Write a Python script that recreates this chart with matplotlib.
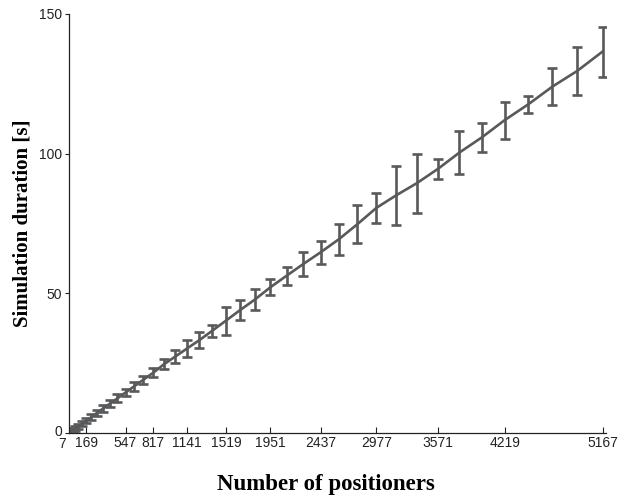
import numpy as np
import matplotlib
matplotlib.use('Agg')
import matplotlib.pyplot as plt
from matplotlib.transforms import ScaledTranslation

# number of positioners (hexagonal layouts)
positioners = [7, 19, 37, 61, 91, 127, 169, 217, 271, 331, 397, 469, 547, 631,
               721, 817, 919, 1027, 1141, 1261, 1387, 1519, 1657, 1801, 1951,
               2107, 2269, 2437, 2611, 2791, 2977, 3169, 3367, 3571, 3781, 3997,
               4219, 4447, 4681, 4921, 5167]

# mean simulation duration [s]
duration = [0.2, 0.5, 1.0, 1.6, 2.4, 3.4, 4.5, 5.7, 7.2, 8.8, 10.5, 12.4, 14.5,
            16.7, 19.1, 21.6, 24.6, 27.3, 30.2, 33.2, 36.6, 40.2, 44.0, 47.8,
            52.2, 56.3, 60.5, 64.7, 69.3, 74.7, 80.6, 85.1, 89.4, 94.5, 100.4,
            105.8, 112.0, 117.65, 124.0, 129.6, 136.55]

# error bar half widths [s]
errors = [0.5, 0.6, 0.7, 0.8, 0.9, 1.0, 1.0, 1.1, 1.2, 1.2, 1.3, 1.4, 1.2, 1.5,
          1.4, 1.6, 1.8, 2.35, 3.1, 2.9, 2.1, 5.05, 3.45, 3.8, 2.95, 3.25, 4.45,
          4.2, 5.55, 6.85, 5.45, 10.6, 10.5, 3.6, 7.8, 5.1, 6.6, 3.15, 6.6,
          8.7, 8.95]

xtick_values = [7, 169, 547, 817, 1141, 1519, 1951, 2437, 2977, 3571, 4219, 5167]
ytick_values = [0, 50, 100, 150]

col = '#58595b'

fig = plt.figure(figsize=(6.19, 4.99), dpi=100)
ax = fig.add_axes([0.1115, 0.1323, 0.8675, 0.8397])

ax.errorbar(positioners, duration, yerr=errors, color=col, linewidth=1.9,
            elinewidth=1.9, capsize=3.6, capthick=1.9)

ax.set_xlim(0, 5200)
ax.set_ylim(0, 150)
ax.set_xticks(xtick_values)
ax.set_xticklabels([str(v) for v in xtick_values])
ax.set_yticks(ytick_values)

for s in ['top', 'right']:
    ax.spines[s].set_visible(False)
for s in ['left', 'bottom']:
    ax.spines[s].set_linewidth(0.9)
    ax.spines[s].set_color('#222222')

ax.tick_params(axis='x', direction='in', length=4, width=0.8, pad=2,
               labelsize=10, colors='#222222')
ax.tick_params(axis='y', direction='out', length=3, width=0.8, pad=2,
               labelsize=10, colors='#222222')
for lab in ax.get_xticklabels() + ax.get_yticklabels():
    lab.set_family('Liberation Sans')

# nudge the "7" label left so it does not run into "169"
first = ax.get_xticklabels()[0]
first.set_transform(first.get_transform() +
                    ScaledTranslation(-8 / 100, -1 / 100, fig.dpi_scale_trans))
# and lift the "0" a touch so it sits just above the "7"
zero = ax.get_yticklabels()[0]
zero.set_transform(zero.get_transform() +
                   ScaledTranslation(0, 2 / 100, fig.dpi_scale_trans))

ax.set_xlabel('Number of positioners', family='Liberation Serif',
              fontweight='bold', fontsize=16.5, labelpad=17)
ax.xaxis.label.set_x(0.479)
ax.set_ylabel('Simulation duration [s]', family='Liberation Serif',
              fontweight='bold', fontsize=15, labelpad=5)

fig.savefig('out.png', dpi=100)
